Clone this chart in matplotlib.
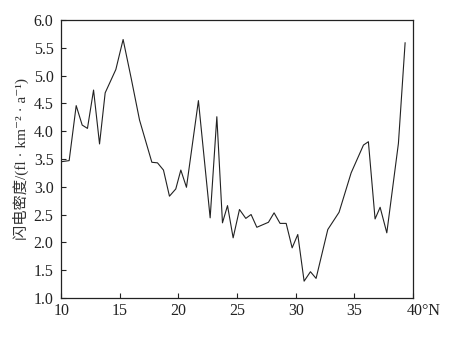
import numpy as np
import matplotlib
matplotlib.use("Agg")
import matplotlib.pyplot as plt
from matplotlib.transforms import ScaledTranslation

# Données (latitude en °N, densité de foudre)
lat = [10.0, 10.68, 11.28, 11.79, 12.24, 12.76, 13.27, 13.75, 14.66, 15.28,
       15.97, 16.68, 17.73, 18.21, 18.72, 19.23, 19.77, 20.20, 20.68, 21.70,
       22.70, 23.27, 23.75, 24.18, 24.66, 25.20, 25.74, 26.19, 26.68, 27.67,
       28.15, 28.66, 29.18, 29.69, 30.17, 30.71, 31.25, 31.73, 32.73, 33.69,
       34.72, 35.77, 36.19, 36.76, 37.19, 37.76, 38.75, 39.32]
densite = [3.45, 3.47, 4.46, 4.11, 4.05, 4.74, 3.77, 4.69, 5.11, 5.65,
           4.95, 4.20, 3.44, 3.43, 3.30, 2.83, 2.96, 3.30, 2.99, 4.55,
           2.44, 4.26, 2.35, 2.66, 2.08, 2.59, 2.43, 2.50, 2.27, 2.36,
           2.53, 2.34, 2.34, 1.90, 2.14, 1.30, 1.47, 1.35, 2.23, 2.54,
           3.25, 3.75, 3.81, 2.42, 2.63, 2.17, 3.78, 5.59]

xticks = [10, 15, 20, 25, 30, 35, 40]
xlabels = ['10', '15', '20', '25', '30', '35', '40°N']
yticks = [1.0, 1.5, 2.0, 2.5, 3.0, 3.5, 4.0, 4.5, 5.0, 5.5, 6.0]
ylabel = '闪电密度/(fl · km⁻² · a⁻¹)'

police = ['Liberation Serif', 'Noto Sans CJK SC', 'DejaVu Serif']
plt.rcParams['font.family'] = police

fig = plt.figure(figsize=(4.6, 3.4), dpi=100)
ax = fig.add_axes([0.133, 0.124, 0.765, 0.817])

ax.plot(lat, densite, color='#222222', lw=0.8)

ax.set_xlim(10, 40)
ax.set_ylim(1.0, 6.0)
ax.set_xticks(xticks)
ax.set_xticklabels(xlabels)
ax.set_yticks(yticks)
ax.set_yticklabels([f'{v:.1f}' for v in yticks])
ax.tick_params(direction='in', length=3.5, width=0.8, labelsize=11.5,
               colors='#222222', top=False, right=False)
ax.tick_params(axis='y', pad=5.5)
for s in ax.spines.values():
    s.set_linewidth(0.9)
    s.set_color('#222222')

# décaler "40°N" pour que "40" reste centré sur la graduation
lab = ax.get_xticklabels()[-1]
lab.set_horizontalalignment('left')
lab.set_transform(lab.get_transform() + ScaledTranslation(-6/100, 0, fig.dpi_scale_trans))

ax.set_ylabel(ylabel, fontsize=11, color='#333333', labelpad=3)

fig.savefig('out.png', dpi=100)
